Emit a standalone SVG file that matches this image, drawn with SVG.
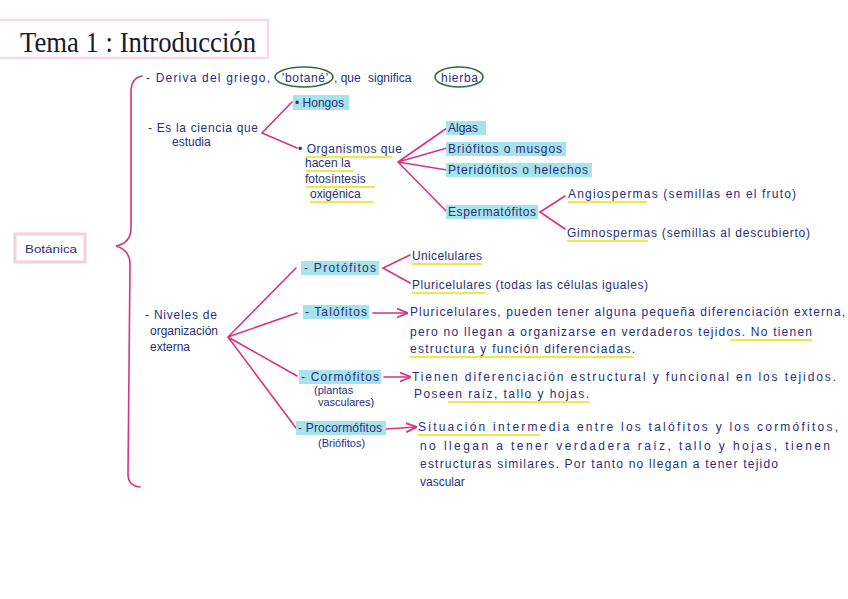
<svg xmlns="http://www.w3.org/2000/svg" width="848" height="599" viewBox="0 0 848 599">
<style>
.t{font-family:"Liberation Sans",Arial,sans-serif;font-size:12px;fill:#27307a}
.s{font-size:11px}
.ttl{font-family:"Liberation Serif","Times New Roman",serif;font-size:30px;fill:#1a1a2a}
.hl{fill:#a8e2ea}
.ul{stroke:#f1e64e;stroke-width:2;fill:none}
.ln{stroke:#d8337f;stroke-width:1.6;fill:none;stroke-linecap:round}
.ov{stroke:#2e6b40;stroke-width:1.6;fill:none}
</style>
<defs>
<marker id="ah" viewBox="0 0 10 10" refX="9" refY="5" markerWidth="7" markerHeight="7" orient="auto"><path d="M0,1 L10,5 L0,9" fill="none" stroke="#d8337f" stroke-width="1.6"/></marker>
</defs>
<rect width="848" height="599" fill="#ffffff"/>
<g id="title">
<rect x="-2" y="20" width="270" height="38" fill="none" stroke="#f6d9e8" stroke-width="2.5"/>
<text class="ttl" x="20" y="52" textLength="236" lengthAdjust="spacingAndGlyphs">Tema 1 : Introducción</text>
</g>
<g id="connectors">
<path class="ln" d="M142,76 Q131,78 131,92 L131,228 Q131,243 116,246 Q130,250 130,264 L128,474 Q128,486 140,487"/>
<path class="ln" d="M292,102 L262,133 L297,148"/>
<path class="ln" d="M447,128 L398,162 L447,148 M398,162 L447,170 M398,162 L447,212"/>
<path class="ln" d="M565,196 L540,212 L565,229"/>
<path class="ln" d="M296,268 L228,337 L297,313 M228,337 L297,376 M228,337 L296,428"/>
<path class="ln" d="M410,255 L383,268 L410,283"/>
<path class="ln" marker-end="url(#ah)" d="M373,313 L407,313"/>
<path class="ln" marker-end="url(#ah)" d="M384,377 L410,377"/>
<path class="ln" marker-end="url(#ah)" d="M386,429 L416,427"/>
</g>
<g id="botanica">
<rect x="15" y="234" width="70" height="28" fill="none" stroke="#f3cfe0" stroke-width="3"/>
<text class="t s" x="25" y="253" textLength="52" lengthAdjust="spacingAndGlyphs">Botánica</text>
</g>
<g id="deriva">
<text class="t" x="146" y="82" textLength="124" lengthAdjust="spacing">- Deriva del griego,</text>
<text class="t" x="282" y="82" textLength="46" lengthAdjust="spacing">'botané'</text>
<text class="t" x="334" y="82">, que</text>
<text class="t" x="368" y="82">significa</text>
<text class="t" x="441" y="82" textLength="37" lengthAdjust="spacing">hierba</text>
<ellipse class="ov" cx="304" cy="77" rx="29" ry="10"/>
<ellipse class="ov" cx="459" cy="77" rx="24" ry="10"/>
</g>
<g id="ciencia">
<text class="t" x="148" y="132" textLength="110" lengthAdjust="spacing">- Es la ciencia que</text>
<text class="t" x="172" y="146">estudia</text>
</g>
<g id="hongos">
<rect class="hl" x="293" y="95" width="56" height="15"/>
<text class="t" x="295" y="107">• Hongos</text>
</g>
<g id="organismos">
<text class="t" x="298" y="153" textLength="104" lengthAdjust="spacing">• Organismos que</text>
<text class="t" x="305" y="167">hacen la</text>
<text class="t" x="305" y="183">fotosíntesis</text>
<text class="t" x="310" y="198">oxigénica</text>
<path class="ul" d="M306,157 L392,157 M306,171 L353,171 M306,187 L375,187 M310,202 L373,202"/>
</g>
<g id="algas">
<rect class="hl" x="446" y="121" width="40" height="14"/>
<text class="t" x="448" y="132">Algas</text>
</g>
<g id="briofitos">
<rect class="hl" x="446" y="142" width="120" height="14"/>
<text class="t" x="448" y="153" textLength="114" lengthAdjust="spacing">Briófitos o musgos</text>
</g>
<g id="pteridofitos">
<rect class="hl" x="446" y="163" width="146" height="14"/>
<text class="t" x="448" y="174" textLength="140" lengthAdjust="spacing">Pteridófitos o helechos</text>
</g>
<g id="espermatofitos">
<rect class="hl" x="446" y="205" width="92" height="14"/>
<text class="t" x="448" y="216" textLength="88" lengthAdjust="spacing">Espermatófitos</text>
</g>
<g id="angiospermas">
<text class="t" x="568" y="198" textLength="228" lengthAdjust="spacing">Angiospermas (semillas en el fruto)</text>
<path class="ul" d="M568,202 L647,202"/>
</g>
<g id="gimnospermas">
<text class="t" x="567" y="237" textLength="243" lengthAdjust="spacing">Gimnospermas (semillas al descubierto)</text>
<path class="ul" d="M567,241 L648,241"/>
</g>
<g id="niveles">
<text class="t" x="145" y="319" textLength="72" lengthAdjust="spacing">- Niveles de</text>
<text class="t" x="150" y="335">organización</text>
<text class="t" x="150" y="351">externa</text>
</g>
<g id="protofitos">
<rect class="hl" x="301" y="261" width="78" height="14"/>
<text class="t" x="304" y="272" textLength="72" lengthAdjust="spacing">- Protófitos</text>
</g>
<g id="unicelulares">
<text class="t" x="412" y="260" textLength="70" lengthAdjust="spacing">Unicelulares</text>
<path class="ul" d="M412,264 L482,264"/>
</g>
<g id="pluricelulares">
<text class="t" x="412" y="289" textLength="236" lengthAdjust="spacing">Pluricelulares (todas las células iguales)</text>
<path class="ul" d="M412,293 L485,293"/>
</g>
<g id="talofitos">
<rect class="hl" x="303" y="305" width="66" height="14"/>
<text class="t" x="305" y="316" textLength="62" lengthAdjust="spacing">- Talófitos</text>
</g>
<g id="talofitos-desc">
<text class="t" x="410" y="316" textLength="435" lengthAdjust="spacing">Pluricelulares, pueden tener alguna pequeña diferenciación externa,</text>
<text class="t" x="410" y="336" textLength="402" lengthAdjust="spacing">pero no llegan a organizarse en verdaderos tejidos. No tienen</text>
<text class="t" x="410" y="353" textLength="225" lengthAdjust="spacing">estructura y función diferenciadas.</text>
<path class="ul" d="M730,340 L812,340 M410,357 L634,357"/>
</g>
<g id="cormofitos">
<rect class="hl" x="299" y="370" width="82" height="14"/>
<text class="t" x="301" y="381" textLength="78" lengthAdjust="spacing">- Cormófitos</text>
<text class="t s" x="314" y="394">(plantas</text>
<text class="t s" x="318" y="406">vasculares)</text>
</g>
<g id="cormofitos-desc">
<text class="t" x="412" y="381" textLength="424" lengthAdjust="spacing">Tienen diferenciación estructural y funcional en los tejidos.</text>
<text class="t" x="414" y="398" textLength="175" lengthAdjust="spacing">Poseen raíz, tallo y hojas.</text>
<path class="ul" d="M448,402 L590,402"/>
</g>
<g id="procormofitos">
<rect class="hl" x="296" y="421" width="90" height="14"/>
<text class="t" x="298" y="432" textLength="84" lengthAdjust="spacing">- Procormófitos</text>
<text class="t s" x="318" y="447">(Briófitos)</text>
</g>
<g id="procormofitos-desc">
<text class="t" x="418" y="431" textLength="420" lengthAdjust="spacing">Situación intermedia entre los talófitos y los cormófitos,</text>
<text class="t" x="420" y="450" textLength="410" lengthAdjust="spacing">no llegan a tener verdadera raíz, tallo y hojas, tienen</text>
<text class="t" x="420" y="468" textLength="358" lengthAdjust="spacing">estructuras similares. Por tanto no llegan a tener tejido</text>
<text class="t" x="420" y="486">vascular</text>
<path class="ul" d="M418,435 L540,435"/>
</g>
</svg>
